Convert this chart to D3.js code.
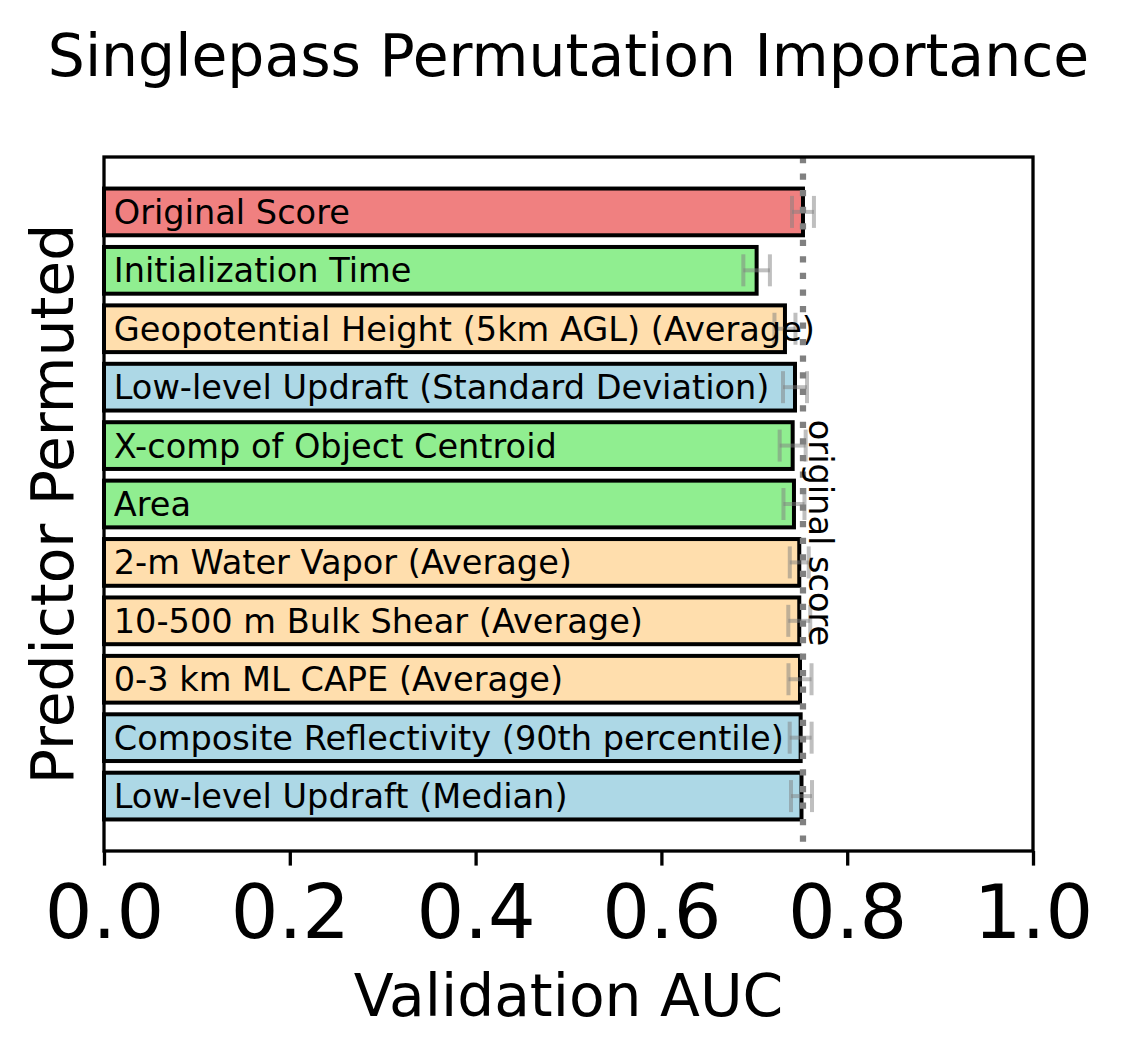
<!DOCTYPE html>
<html>
<head>
<meta charset="utf-8">
<script src="https://cdn.jsdelivr.net/npm/d3@7"></script>
<style>
  html, body { margin: 0; padding: 0; background: #fff; }
  svg { display: block; font-family: "DejaVu Sans", sans-serif; }
</style>
</head>
<body>
<svg id="chart" width="1123" height="1057"></svg>
<script>
// ---- data ----
const predictors = [
  "Original Score",
  "Initialization Time",
  "Geopotential Height (5km AGL) (Average)",
  "Low-level Updraft (Standard Deviation)",
  "X-comp of Object Centroid",
  "Area",
  "2-m Water Vapor (Average)",
  "10-500 m Bulk Shear (Average)",
  "0-3 km ML CAPE (Average)",
  "Composite Reflectivity (90th percentile)",
  "Low-level Updraft (Median)"
];
const aucValues = [0.7524, 0.7025, 0.7330, 0.7438, 0.7413, 0.7427, 0.7484, 0.7484, 0.7492, 0.7499, 0.7508];
const aucErrors = [0.0118, 0.0143, 0.0113, 0.0129, 0.0140, 0.0113, 0.0102, 0.0118, 0.0124, 0.0118, 0.0113];
const barColors = ["#F08080", "#90EE90", "#FFDEAD", "#ADD8E6", "#90EE90", "#90EE90",
                   "#FFDEAD", "#FFDEAD", "#FFDEAD", "#ADD8E6", "#ADD8E6"];
const xTicks = [0.0, 0.2, 0.4, 0.6, 0.8, 1.0];
const originalScore = 0.7524;
const titleText = "Singlepass Permutation Importance";
const xLabel = "Validation AUC";
const yLabel = "Predictor Permuted";
const refLabel = "original score";

// ---- layout ----
const L = 104, R = 1033, T = 157, B = 851;
const svg = d3.select("#chart");

const x = d3.scaleLinear().domain([0, 1]).range([L, R]);
const y = d3.scaleBand().domain(predictors).range([T, B]).paddingInner(0.2).paddingOuter(0.54);

// bars
svg.append("g").selectAll("rect").data(predictors).join("rect")
  .attr("x", x(0))
  .attr("y", d => y(d))
  .attr("width", (d, i) => x(aucValues[i]) - x(0))
  .attr("height", y.bandwidth())
  .attr("fill", (d, i) => barColors[i])
  .attr("stroke", "#000")
  .attr("stroke-width", 4);

// error bars
const eb = svg.append("g").attr("stroke", "#808080").attr("stroke-width", 4).attr("stroke-opacity", 0.5);
predictors.forEach((p, i) => {
  const cy = y(p) + y.bandwidth() / 2;
  const x0 = x(aucValues[i] - aucErrors[i]), x1 = x(aucValues[i] + aucErrors[i]);
  eb.append("line").attr("x1", x0).attr("x2", x1).attr("y1", cy).attr("y2", cy);
  eb.append("line").attr("x1", x0).attr("x2", x0).attr("y1", cy - 16).attr("y2", cy + 16);
  eb.append("line").attr("x1", x1).attr("x2", x1).attr("y1", cy - 16).attr("y2", cy + 16);
});

// bar labels
svg.append("g").selectAll("text").data(predictors).join("text")
  .attr("x", x(0.0105))
  .attr("y", d => y(d) + y.bandwidth() / 2 + 12)
  .attr("font-size", 33.6)
  .attr("fill", "#000")
  .text(d => d);

// original score line
svg.append("line")
  .attr("x1", x(originalScore)).attr("x2", x(originalScore))
  .attr("y1", T).attr("y2", B)
  .attr("stroke", "#808080").attr("stroke-width", 6.25)
  .attr("stroke-dasharray", "6.25,10.3");

svg.append("text")
  .attr("transform", `translate(${x(originalScore) + 6},${(T + B) / 2 + 29}) rotate(90)`)
  .attr("text-anchor", "middle")
  .attr("font-size", 33.6)
  .text(refLabel);

// axes frame
svg.append("rect").attr("x", L).attr("y", T).attr("width", R - L).attr("height", B - T)
  .attr("fill", "none").attr("stroke", "#000").attr("stroke-width", 3.3);

// x axis
const xAxis = d3.axisBottom(x).tickValues(xTicks).tickFormat(d3.format(".1f"))
  .tickSize(14.6).tickPadding(14.6);
const gx = svg.append("g").attr("transform", `translate(0,${B})`).call(xAxis);
gx.select(".domain").remove();
gx.selectAll(".tick line").attr("stroke", "#000").attr("stroke-width", 3.3);
gx.selectAll(".tick text").attr("font-size", 75).attr("font-family", "DejaVu Sans").attr("fill", "#000")
  .attr("dy", null).attr("y", 938 - B);

// titles
svg.append("text").attr("x", (L + R) / 2).attr("y", 76).attr("text-anchor", "middle")
  .attr("font-size", 58.4).text(titleText);
svg.append("text").attr("x", (L + R) / 2).attr("y", 1016).attr("text-anchor", "middle")
  .attr("font-size", 58.3).text(xLabel);
svg.append("text").attr("transform", `translate(73,${(T + B) / 2}) rotate(-90)`)
  .attr("text-anchor", "middle").attr("font-size", 58.3).text(yLabel);
</script>
</body>
</html>
